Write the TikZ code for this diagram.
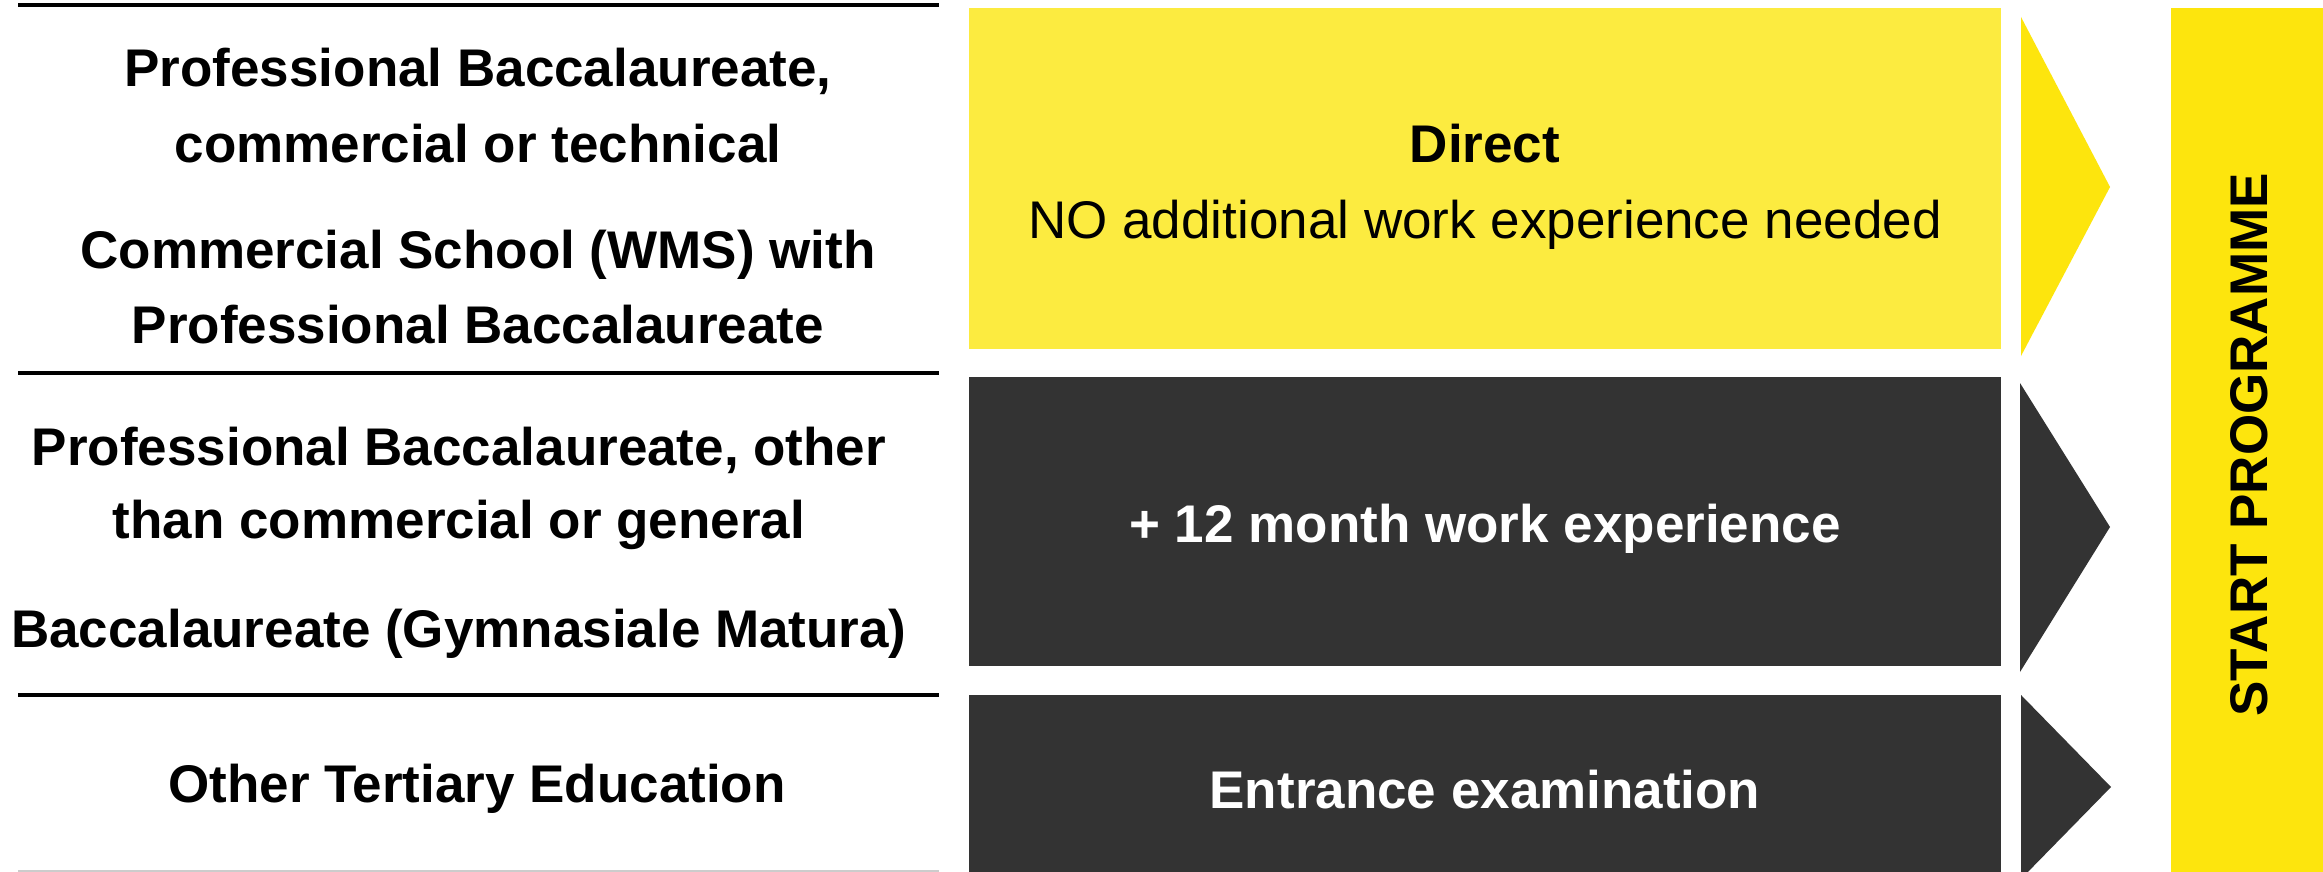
\documentclass[tikz,border=0pt]{standalone}
\usepackage{fontspec}
\setmainfont{Liberation Sans}
\definecolor{boxyellow}{HTML}{FCEB40}
\definecolor{arrowyellow}{HTML}{FDE50D}
\definecolor{darkbox}{HTML}{333333}
\definecolor{rulegray}{HTML}{CCCCCC}
\tikzset{
  lefttext/.style={anchor=base, inner sep=0pt, text=black, font=\fontsize{53}{64}\selectfont\bfseries},
  boxtext/.style={anchor=base, inner sep=0pt, font=\fontsize{53}{64}\selectfont},
  divider/.style={line width=3.5pt, black},
}
\begin{document}
\begin{tikzpicture}[x=1pt,y=-1pt]
\useasboundingbox (0,0) rectangle (2323,872);
\fill[white] (0,0) rectangle (2323,872);

% dividers
\draw[divider] (18,5) -- (939,5);
\draw[divider] (18,373) -- (939,373);
\draw[divider] (18,695) -- (939,695);
\draw[rulegray, line width=2pt] (18,870.5) -- (939,870.5);

% left texts
\node[lefttext] (l1a) at (478,87) {Professional Baccalaureate,};
\node[lefttext] (l1b) at (478,162) {commercial or technical};
\node[lefttext] (l1c) at (478,268) {Commercial School (WMS) with};
\node[lefttext] (l1d) at (478,343) {Professional Baccalaureate};
\node[lefttext] (l2a) at (459,465) {Professional Baccalaureate, other};
\node[lefttext] (l2b) at (459,538) {than commercial or general};
\node[lefttext] (l2c) at (459,647) {Baccalaureate (Gymnasiale Matura)};
\node[lefttext] (l3a) at (477,802) {Other Tertiary Education};

% middle boxes
\fill[boxyellow] (969,8) rectangle (2001,349);
\fill[darkbox] (969,377) rectangle (2001,666);
\fill[darkbox] (969,695) rectangle (2001,872);

\node[boxtext, text=black, font=\fontsize{53}{64}\selectfont\bfseries] (d1) at (1485,162) {Direct};
\node[boxtext, text=black] (d2) at (1485,238) {NO additional work experience needed};
\node[boxtext, text=white, font=\fontsize{53}{64}\selectfont\bfseries] (w1) at (1485,542) {+ 12 month work experience};
\node[boxtext, text=white, font=\fontsize{53}{64}\selectfont\bfseries] (e1) at (1485,808) {Entrance examination};

% chevrons
\fill[arrowyellow] (2021,17) -- (2110,187) -- (2021,356) -- cycle;
\fill[darkbox] (2020,383) -- (2110,527) -- (2020,672) -- cycle;
\begin{scope}
\clip (2000,690) rectangle (2130,872);
\fill[darkbox] (2021,695) -- (2111,787) -- (2021,879) -- cycle;
\end{scope}

% start bar
\fill[arrowyellow] (2171,8) rectangle (2323,872);
\node[lefttext, rotate=90] (sp) at (2267,445) {START PROGRAMME};
\end{tikzpicture}
\end{document}
